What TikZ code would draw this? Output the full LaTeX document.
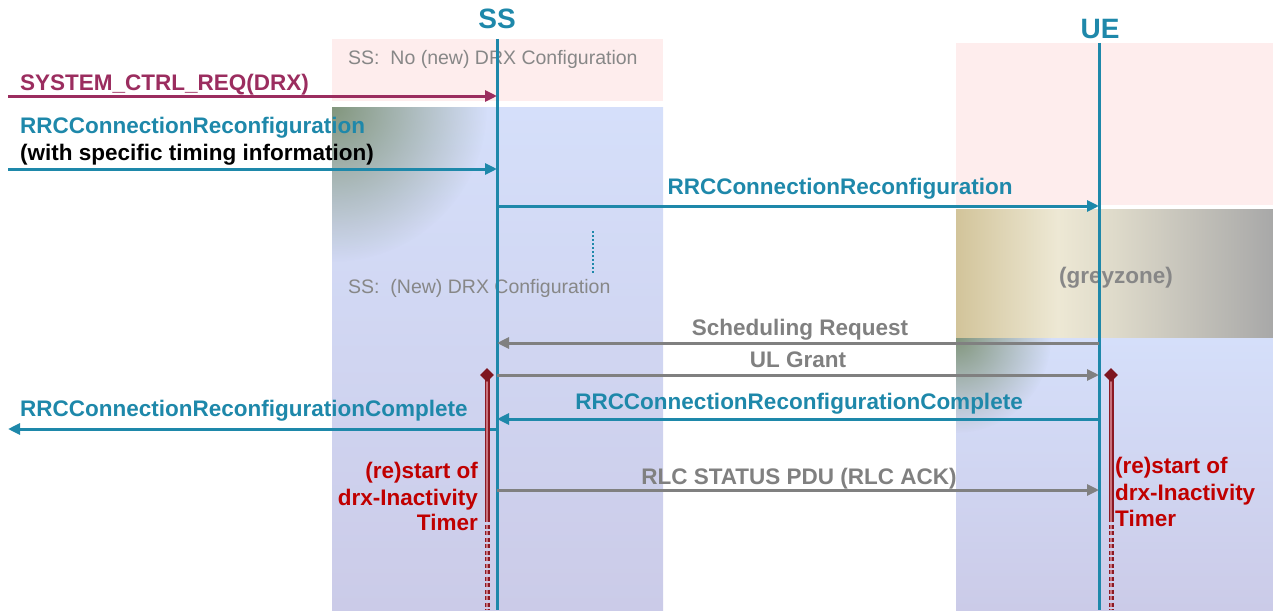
\documentclass[tikz,border=0pt]{standalone}
\usepackage{fontspec}
\setmainfont{Liberation Sans}
\usetikzlibrary{arrows.meta,shapes.geometric,fadings}
\definecolor{ssblue}{RGB}{30,136,170}
\definecolor{maroon}{RGB}{155,45,95}
\definecolor{msggrey}{RGB}{128,128,128}
\definecolor{boxgrey}{RGB}{135,135,135}
\definecolor{pinkbox}{RGB}{254,237,237}
\definecolor{bluetop}{RGB}{213,223,250}
\definecolor{bluebot}{RGB}{203,203,232}
\definecolor{greenish}{RGB}{130,150,125}
\definecolor{timerred}{RGB}{192,0,0}
\definecolor{timerline}{RGB}{140,25,35}
\definecolor{timerin}{RGB}{200,115,125}
\definecolor{tanA}{RGB}{210,196,154}
\definecolor{tanB}{RGB}{237,232,212}
\definecolor{tanC}{RGB}{222,218,202}
\definecolor{greyD}{RGB}{168,168,168}
\pgfdeclarehorizontalshading{greyzoneshade}{100bp}{color(0bp)=(tanA); color(25bp)=(tanA); color(41bp)=(tanB); color(50bp)=(tanC); color(75bp)=(greyD); color(100bp)=(greyD)}
\tikzfading[name=cornerfade, inner color=transparent!0, outer color=transparent!100]
\begin{document}
\begin{tikzpicture}[x=1pt,y=-1pt,
  lbl/.style={font=\fontsize{22.5}{27}\selectfont\bfseries, inner sep=0},
  boxtxt/.style={font=\fontsize{19.5}{23}\selectfont, text=boxgrey, inner sep=0, anchor=base west},
  actor/.style={font=\fontsize{28}{32}\selectfont\bfseries, text=ssblue, inner sep=0, anchor=base},
  life/.style={draw=ssblue, line width=3pt},
  msg/.style={line width=3pt, -{Triangle[length=12pt,width=11pt]}},
  timerbar/.style={draw=timerline, line width=1.6pt, double=timerin, double distance=1.8pt},
  timerdash/.style={timerbar, dash pattern=on 4pt off 2.5pt},
  dia/.style={diamond, fill=timerline!90!black, inner sep=0, minimum size=14pt},
  timertxt/.style={lbl, text=timerred, anchor=base}
]
\useasboundingbox (0,0) rectangle (1273,610);
% background zones
\fill[pinkbox] (332,39) rectangle (663,101);
\shade[top color=bluetop, bottom color=bluebot] (332,107) rectangle (663,610);
\begin{scope}
  \clip (332,107) rectangle (663,610);
  \fill[greenish, path fading=cornerfade] (332,107) circle (155pt);
\end{scope}
\fill[pinkbox] (956,43) rectangle (1273,205);
\shade[shading=greyzoneshade] (956,209) rectangle (1273,338);
\shade[top color=bluetop, bottom color=bluebot] (956,338) rectangle (1273,610);
\begin{scope}
  \clip (956,338) rectangle (1273,610);
  \fill[greenish, path fading=cornerfade] (956,338) circle (95pt);
\end{scope}
\node[boxtxt] (ssno) at (348,64) {SS:\ \ No (new) DRX Configuration};
\node[boxtxt] (ssnew) at (348,293) {SS:\ \ (New) DRX Configuration};
\node[lbl, text=boxgrey, anchor=base] (grey) at (1116,283) {(greyzone)};
% actors and lifelines
\node[actor] (ss) at (497,29) {SS};
\node[actor] (ue) at (1100,38) {UE};
\coordinate (sstop) at (497,39);
\coordinate (ssbot) at (497,610);
\coordinate (uetop) at (1099,43);
\coordinate (uebot) at (1099,610);
\draw[life] (sstop) -- (ssbot);
\draw[life] (uetop) -- (uebot);
\coordinate (dtop) at (593,231);
\coordinate (dbot) at (593,273);
\draw[draw=ssblue, line width=2pt, dash pattern=on 2pt off 2pt] (dtop) -- (dbot);
% message end points
\coordinate (a1) at (8,96);   \coordinate (s1) at (497,96);
\coordinate (a2) at (8,169);  \coordinate (s2) at (497,169);
\coordinate (s3) at (497,206); \coordinate (u3) at (1099,206);
\coordinate (u4) at (1099,343); \coordinate (s4) at (497,343);
\coordinate (s5) at (497,375); \coordinate (u5) at (1099,375);
\coordinate (u6) at (1099,419); \coordinate (s6) at (497,419);
\coordinate (s7) at (497,429); \coordinate (a7) at (8,429);
\coordinate (s8) at (497,490); \coordinate (u8) at (1099,490);
\draw[msg, draw=maroon, fill=maroon] (a1) -- (s1);
\draw[msg, draw=ssblue, fill=ssblue] (a2) -- (s2);
\draw[msg, draw=ssblue, fill=ssblue] (s3) -- (u3);
\draw[msg, draw=msggrey, fill=msggrey] (u4) -- (s4);
\draw[msg, draw=msggrey, fill=msggrey] (s5) -- (u5);
\draw[msg, draw=ssblue, fill=ssblue] (u6) -- (s6);
\draw[msg, draw=ssblue, fill=ssblue] (s7) -- (a7);
\draw[msg, draw=msggrey, fill=msggrey] (s8) -- (u8);
% message labels
\node[lbl, text=maroon, anchor=base west] (m1) at (20,90) {SYSTEM\_CTRL\_REQ(DRX)};
\node[lbl, text=ssblue, anchor=base west] (m2a) at (20,133) {RRCConnectionReconfiguration};
\node[lbl, text=black, anchor=base west] (m2b) at (20,160) {(with specific timing information)};
\node[lbl, text=ssblue, anchor=base] (m3) at (840,194) {RRCConnectionReconfiguration};
\node[lbl, text=msggrey, anchor=base] (m4) at (800,335) {Scheduling Request};
\node[lbl, text=msggrey, anchor=base] (m5) at (798,367) {UL Grant};
\node[lbl, text=ssblue, anchor=base] (m6) at (799,409) {RRCConnectionReconfigurationComplete};
\node[lbl, text=ssblue, anchor=base west] (m7) at (20,416) {RRCConnectionReconfigurationComplete};
\node[lbl, text=msggrey, anchor=base] (m8) at (799,484) {RLC STATUS PDU (RLC ACK)};
% timers
\coordinate (t1top) at (487,375); \coordinate (t1mid) at (487,518); \coordinate (t1bot) at (487,610);
\coordinate (t2top) at (1111,375); \coordinate (t2mid) at (1111,518); \coordinate (t2bot) at (1111,610);
\draw[timerbar] (t1top) -- (t1mid);
\draw[timerdash] (t1mid) -- (t1bot);
\draw[timerbar] (t2top) -- (t2mid);
\draw[timerdash] (t2mid) -- (t2bot);
\node[dia] (d1) at (t1top) {};
\node[dia] (d2) at (t2top) {};
\node[timertxt, anchor=base east] (ta1) at (478,478) {(re)start of};
\node[timertxt, anchor=base east] (ta2) at (478,505) {drx-Inactivity};
\node[timertxt, anchor=base east] (ta3) at (478,530) {Timer};
\node[timertxt, anchor=base west] (tb1) at (1115,473) {(re)start of};
\node[timertxt, anchor=base west] (tb2) at (1115,500) {drx-Inactivity};
\node[timertxt, anchor=base west] (tb3) at (1115,526) {Timer};
\end{tikzpicture}
\end{document}
